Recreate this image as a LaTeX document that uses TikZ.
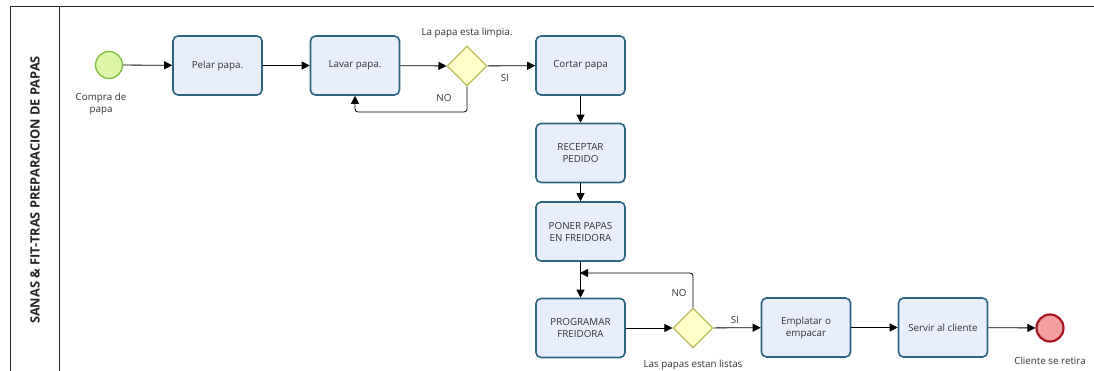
\documentclass[tikz,border=0pt]{standalone}
\usepackage{fontspec}
\setmainfont{Open Sans}
\usetikzlibrary{shapes.geometric,arrows.meta}
\definecolor{taskfill}{HTML}{E8EEFA}
\definecolor{taskdraw}{HTML}{2B6580}
\definecolor{startfill}{HTML}{DDF5A8}
\definecolor{startdraw}{HTML}{7DBE3C}
\definecolor{gwfill}{HTML}{FFFFC8}
\definecolor{gwdraw}{HTML}{BDBD5A}
\definecolor{endfill}{HTML}{F4A0A0}
\definecolor{enddraw}{HTML}{A3161B}
\definecolor{txt}{HTML}{333333}
\tikzset{
  x=1pt,y=-1pt,
  task/.style={draw=taskdraw,fill=taskfill,line width=1.6pt,rounded corners=5pt,
    minimum width=89pt,minimum height=59pt,align=center,font=\fontsize{9.8}{12}\selectfont,text=txt,inner sep=2pt},
  gw/.style={diamond,draw=gwdraw,fill=gwfill,line width=1.2pt,minimum width=40pt,minimum height=40pt,inner sep=0pt},
  startev/.style={circle,draw=startdraw,fill=startfill,line width=1.3pt,minimum size=27pt,inner sep=0pt},
  endev/.style={circle,draw=enddraw,fill=endfill,line width=2.2pt,minimum size=27pt,inner sep=0pt},
  lbl/.style={font=\fontsize{9.8}{12}\selectfont,text=txt,align=center,inner sep=1pt},
  flow/.style={draw=black,line width=0.8pt,-{Triangle[length=8pt,width=8pt]}},
}
\begin{document}
\begin{tikzpicture}
\useasboundingbox (0,0) rectangle (1094,371);
\fill[white] (0,0) rectangle (1094,371);
% pool frame
\draw[line width=1pt,black!85] (10,371) -- (10,6.5) -- (1094,6.5);
\draw[line width=1pt,black!85] (59,6.5) -- (59,371);
\node[rotate=90,font=\fontsize{12.8}{14}\selectfont\bfseries,text=black!85] (title) at (35,190) {SANAS \& FIT-TRAS PREPARACION DE PAPAS};

% nodes
\node[startev] (s) at (109,65) {};
\node[lbl,anchor=north] (sl) at (101,92) {Compra de\\papa};
\node[task] (pelar) at (217.5,65.5) {Pelar papa.};
\node[task] (lavar) at (355,65.5) {Lavar papa.};
\node[gw] (g1) at (467,66) {};
\node[lbl] (g1l) at (467,33) {La papa esta limpia.};
\node[task] (cortar) at (580.5,65.5) {Cortar papa};
\node[task] (recep) at (580.5,153) {RECEPTAR\\PEDIDO};
\node[task] (poner) at (580.5,231.5) {PONER PAPAS\\EN FREIDORA};
\node[task] (prog) at (580.5,328) {PROGRAMAR\\FREIDORA};
\node[gw] (g2) at (693,328) {};
\node[lbl] (g2l) at (693,365) {Las papas estan listas};
\node[task] (empl) at (806,327.5) {Emplatar o\\empacar};
\node[task] (serv) at (943,327.5) {Servir al cliente};
\node[endev] (e) at (1050,328) {};
\node[lbl] (el) at (1050,361) {Cliente se retira};

% labels
\node[lbl] (si1) at (505,78) {SI};
\node[lbl] (no1) at (444,98) {NO};
\node[lbl] (no2) at (679,293) {NO};
\node[lbl] (si2) at (735,320) {SI};

\coordinate (m1) at (580,273);

% flows
\draw[flow] (s) -- (pelar);
\draw[flow] (pelar) -- (lavar);
\draw[flow] (lavar) -- (g1);
\draw[flow] (g1) -- (cortar);
\draw[flow,rounded corners=3pt] (g1.south) -- (467,112) -- (355,112) -- (lavar.south);
\draw[flow] (cortar) -- (recep);
\draw[flow] (recep) -- (poner);
\draw[flow] (poner) -- (prog);
\draw[flow,rounded corners=3pt] (g2.north) -- (693,273) -- (m1);
\draw[flow] (prog) -- (g2);
\draw[flow] (g2) -- (empl);
\draw[flow] (empl) -- (serv);
\draw[flow] (serv) -- (e);
\end{tikzpicture}
\end{document}
